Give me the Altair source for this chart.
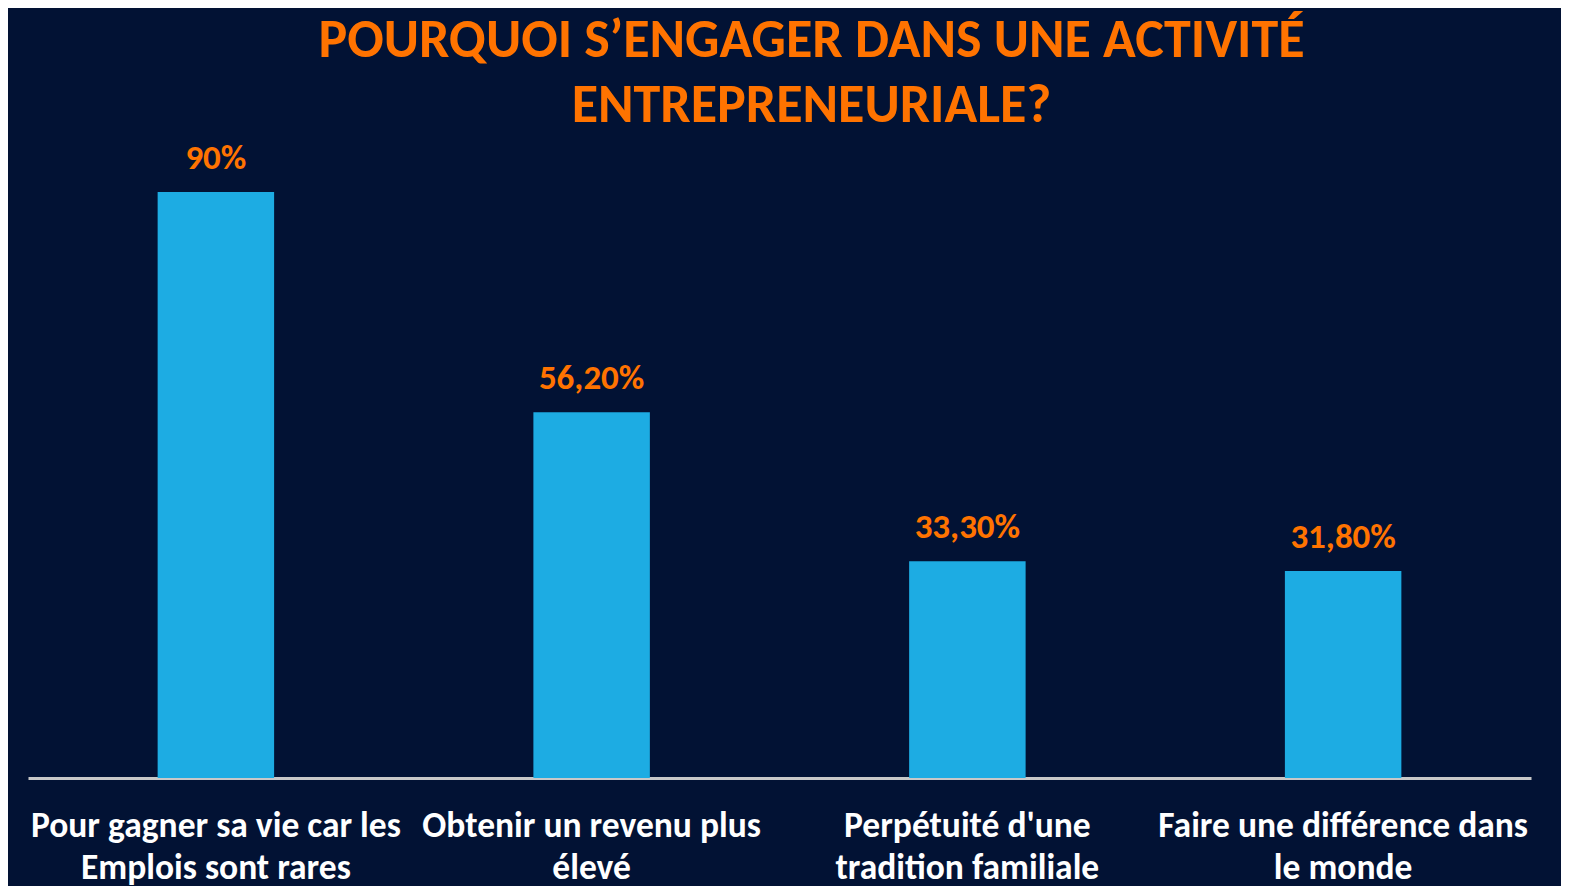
import altair as alt
import pandas as pd

categories = [
    "Pour gagner sa vie car les|Emplois sont rares",
    "Obtenir un revenu plus|élevé",
    "Perpétuité d'une|tradition familiale",
    "Faire une différence dans|le monde",
]
values = [90, 56.2, 33.3, 31.8]
value_labels = ["90%", "56,20%", "33,30%", "31,80%"]

df = pd.DataFrame({"cat": categories, "val": values, "lab": value_labels})

BG = "#021234"
BAR = "#1DACE3"
ORANGE = "#FF7300"
FONT = "Carlito, Lato, sans-serif"

x = alt.X(
    "cat:N",
    sort=None,
    scale=alt.Scale(paddingInner=0.69, paddingOuter=0.345),
    axis=alt.Axis(
        title=None,
        labelAngle=0,
        labelExpr="split(datum.label, '|')",
        labelFont=FONT,
        labelFontSize=35.5,
        labelFontWeight="bold",
        labelColor="#FFFFFF",
        labelLimit=700,
        labelLineHeight=42.5,
        labelPadding=30,
        ticks=False,
        domainColor="#C8C8C8",
        domainWidth=3,
    ),
)
y = alt.Y(
    "val:Q",
    scale=alt.Scale(domain=[0, 100], nice=False, zero=True),
    axis=None,
)

bars = alt.Chart(df).mark_bar(color=BAR).encode(x=x, y=y)
texts = alt.Chart(df).mark_text(
    color=ORANGE, font=FONT, fontSize=35, fontWeight="bold",
    baseline="alphabetic", dy=-23,
).encode(x=x, y=y, text="lab:N")

chart = alt.layer(bars, texts).properties(
    width=1503,
    height=651,
    title=alt.TitleParams(
        text=["POURQUOI S’ENGAGER DANS UNE ACTIVITÉ", "ENTREPRENEURIALE?"],
        font=FONT,
        fontSize=54,
        fontWeight="bold",
        color=ORANGE,
        anchor="middle",
        dx=32,
        lineHeight=65,
        offset=-6,
    ),
    autosize=alt.AutoSizeParams(type="none"),
    padding={"left": 20, "top": 119, "right": 30, "bottom": 110},
    background=BG,
).configure_view(stroke=None)

chart.save("out.html", embed_options={"renderer": "svg", "actions": False})
